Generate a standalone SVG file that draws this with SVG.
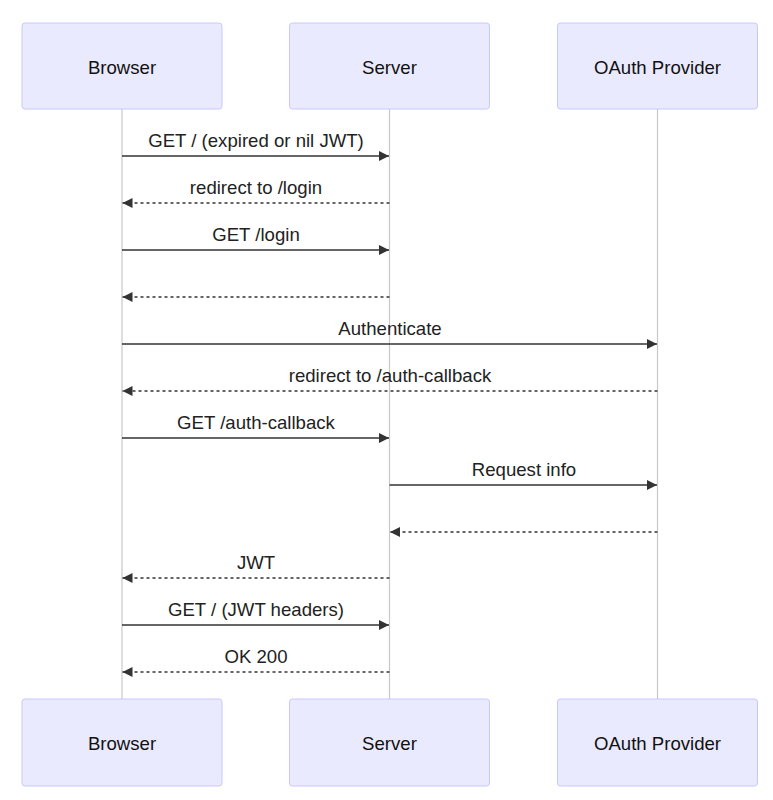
<svg xmlns="http://www.w3.org/2000/svg" width="773" height="800" viewBox="0 0 773 800">
<style>
.actor{fill:#eaeaff;stroke:#c8c8ff;stroke-width:1}
.life{stroke:#c8c8c8;stroke-width:1.2}
.at{font-family:"Liberation Sans",Arial,sans-serif;font-size:18.6px;fill:#111;text-anchor:middle;dominant-baseline:central}
.mt{font-family:"Liberation Sans",Arial,sans-serif;font-size:18.6px;fill:#222;text-anchor:middle}
.m{stroke:#333;stroke-width:1.5;fill:none;marker-end:url(#ah)}
.d{stroke-dasharray:3,3}
</style>
<defs>
<marker id="ah" viewBox="0 0 12 10" refX="10" refY="5" markerWidth="12" markerHeight="10" markerUnits="userSpaceOnUse" orient="auto">
<path d="M0,0 L10,5 L0,10 z" fill="#333"/>
</marker>
</defs>
<g id="lifelines">
<line class="life" x1="122" y1="109" x2="122" y2="699"/>
<line class="life" x1="389.5" y1="109" x2="389.5" y2="699"/>
<line class="life" x1="657.5" y1="109" x2="657.5" y2="699"/>
</g>
<g id="browser-top"><rect class="actor" x="22" y="23" width="200" height="86" rx="3"/><text class="at" x="122" y="67">Browser</text></g>
<g id="server-top"><rect class="actor" x="289.5" y="23" width="200" height="86" rx="3"/><text class="at" x="389.5" y="67">Server</text></g>
<g id="oauth-top"><rect class="actor" x="557.5" y="23" width="200" height="86" rx="3"/><text class="at" x="657.5" y="67">OAuth Provider</text></g>
<g id="browser-bottom"><rect class="actor" x="22" y="699" width="200" height="87" rx="3"/><text class="at" x="122" y="743">Browser</text></g>
<g id="server-bottom"><rect class="actor" x="289.5" y="699" width="200" height="87" rx="3"/><text class="at" x="389.5" y="743">Server</text></g>
<g id="oauth-bottom"><rect class="actor" x="557.5" y="699" width="200" height="87" rx="3"/><text class="at" x="657.5" y="743">OAuth Provider</text></g>
<g id="connectors">
<line class="m" x1="122" y1="156" x2="389" y2="156"/>
<text class="mt" x="256" y="147">GET / (expired or nil JWT)</text>
<line class="m d" x1="389.5" y1="203" x2="122.5" y2="203"/>
<text class="mt" x="256" y="194">redirect to /login</text>
<line class="m" x1="122" y1="250" x2="389" y2="250"/>
<text class="mt" x="256" y="241">GET /login</text>
<line class="m d" x1="389.5" y1="297" x2="122.5" y2="297"/>
<line class="m" x1="122" y1="344" x2="657" y2="344"/>
<text class="mt" x="390" y="335">Authenticate</text>
<line class="m d" x1="657.5" y1="391" x2="122.5" y2="391"/>
<text class="mt" x="390" y="382">redirect to /auth-callback</text>
<line class="m" x1="122" y1="438" x2="389" y2="438"/>
<text class="mt" x="256" y="429">GET /auth-callback</text>
<line class="m" x1="389.5" y1="485" x2="657" y2="485"/>
<text class="mt" x="524" y="476">Request info</text>
<line class="m d" x1="657.5" y1="532" x2="390" y2="532"/>
<line class="m d" x1="389.5" y1="578" x2="122.5" y2="578"/>
<text class="mt" x="256" y="569">JWT</text>
<line class="m" x1="122" y1="625" x2="389" y2="625"/>
<text class="mt" x="256" y="616">GET / (JWT headers)</text>
<line class="m d" x1="389.5" y1="672" x2="122.5" y2="672"/>
<text class="mt" x="256" y="663">OK 200</text>
</g>
</svg>
